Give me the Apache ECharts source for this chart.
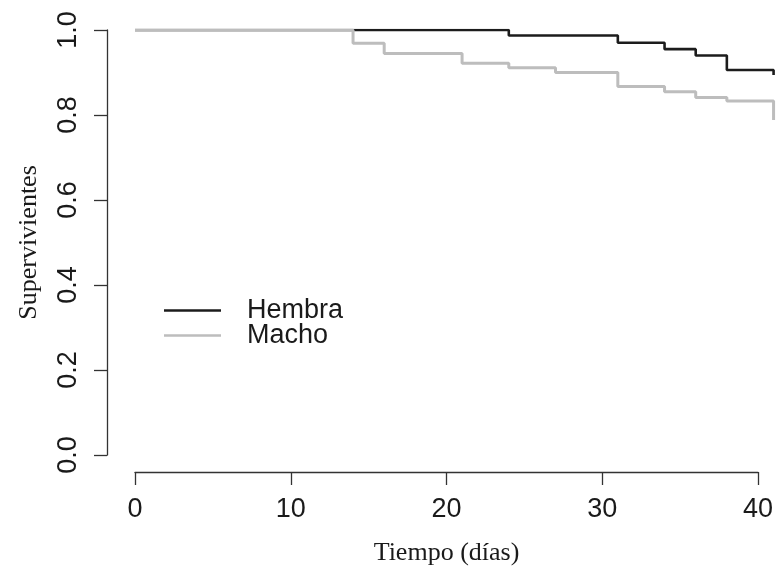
<!DOCTYPE html>
<html>
<head>
<meta charset="utf-8">
<script src="https://cdn.jsdelivr.net/npm/echarts@6/dist/echarts.min.js"></script>
<style>
html,body{margin:0;padding:0;background:#fff;}
#c{width:777px;height:569px;}
</style>
</head>
<body>
<div id="c"></div>
<script>
// Data (Kaplan-Meier steps)
const hembraTimes = [0, 24, 31, 34, 36, 38, 41];
const hembraSurv  = [1, 0.987, 0.970, 0.955, 0.940, 0.906, 0.894];
const machoTimes  = [0, 14, 16, 21, 24, 27, 31, 34, 36, 38, 41];
const machoSurv   = [1, 0.969, 0.945, 0.922, 0.911, 0.900, 0.867, 0.855, 0.841, 0.833, 0.788];
const seriesNames = ['Hembra', 'Macho'];
const xTicks = [0, 10, 20, 30, 40];
const yTicks = [0, 0.2, 0.4, 0.6, 0.8, 1.0];
const xTitle = 'Tiempo (días)';
const yTitle = 'Supervivientes';

const sans = 'Liberation Sans';
const serif = 'Liberation Serif';
const axisColor = '#333';
const textColor = '#1a1a1a';

const pxPerDay = 623 / 40;

const chart = echarts.init(document.getElementById('c'), null, {renderer: 'canvas'});
chart.setOption({
  animation: false,
  backgroundColor: '#fff',
  grid: [
    {left: 135, top: 30, width: pxPerDay * 41, height: 425, containLabel: false, outerBoundsMode: 'none'},
    {left: 135, top: 30, width: pxPerDay * 40, height: 425, containLabel: false, outerBoundsMode: 'none'}
  ],
  legend: {
    orient: 'vertical',
    left: 164,
    top: 297,
    padding: 0,
    icon: 'rect',
    itemWidth: 57,
    itemHeight: 2.6,
    itemGap: -2,
    data: seriesNames,
    textStyle: {fontFamily: sans, fontSize: 27, color: textColor, lineHeight: 25, padding: [0, 0, 0, 21]}
  },
  xAxis: [
    {gridIndex: 0, type: 'value', min: 0, max: 41, show: false},
    {
      gridIndex: 1, type: 'value', min: xTicks[0], max: xTicks[xTicks.length - 1], interval: 10,
      offset: 17,
      name: xTitle, nameLocation: 'middle', nameGap: 68,
      nameTextStyle: {fontFamily: serif, fontSize: 26, color: textColor},
      axisLine: {show: true, onZero: false, lineStyle: {color: axisColor, width: 1.3}},
      axisTick: {show: true, length: 13, inside: false, lineStyle: {color: axisColor, width: 1.3}},
      axisLabel: {fontFamily: sans, fontSize: 27, color: textColor, margin: 24},
      splitLine: {show: false}
    }
  ],
  yAxis: [
    {
      gridIndex: 0, type: 'value', min: yTicks[0], max: yTicks[yTicks.length - 1], interval: 0.2,
      offset: 28,
      name: yTitle, nameLocation: 'middle', nameGap: 65,
      nameTextStyle: {fontFamily: serif, fontSize: 26, color: textColor},
      axisLine: {show: true, onZero: false, lineStyle: {color: axisColor, width: 1.3}},
      axisTick: {show: true, length: 13, inside: false, lineStyle: {color: axisColor, width: 1.3}},
      axisLabel: {fontFamily: sans, fontSize: 27, color: textColor, margin: 25, rotate: 90,
        formatter: v => v.toFixed(1)},
      splitLine: {show: false}
    },
    {gridIndex: 1, type: 'value', min: 0, max: 1, show: false}
  ],
  series: [
    {
      name: seriesNames[0], type: 'line', step: 'end', xAxisIndex: 0, yAxisIndex: 0,
      symbol: 'none', color: '#1c1c1c',
      lineStyle: {color: '#1c1c1c', width: 2.6},
      data: hembraTimes.map((t, i) => [t, hembraSurv[i]])
    },
    {
      name: seriesNames[1], type: 'line', step: 'end', xAxisIndex: 0, yAxisIndex: 0,
      symbol: 'none', color: '#bdbdbd',
      lineStyle: {color: '#bdbdbd', width: 3},
      data: machoTimes.map((t, i) => [t, machoSurv[i]])
    }
  ]
});
</script>
</body>
</html>
